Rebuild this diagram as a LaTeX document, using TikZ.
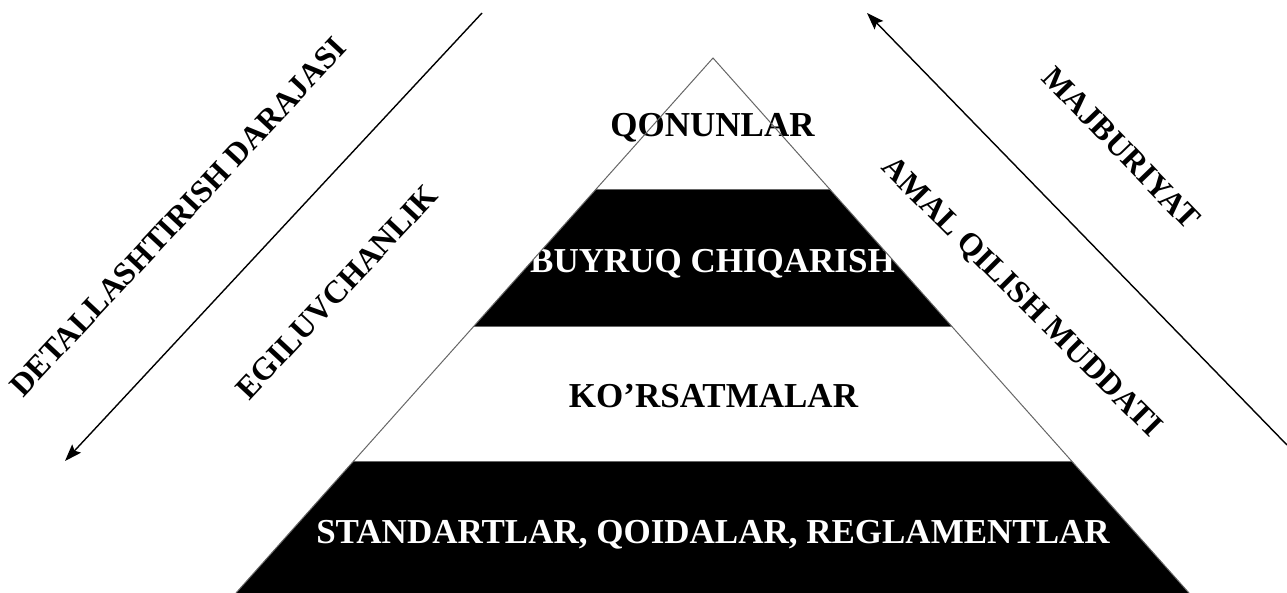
\documentclass[tikz,border=0pt]{standalone}
\usepackage{fontspec}
\setmainfont{Liberation Serif}
\usetikzlibrary{arrows.meta}
\tikzset{
  lbl/.style={font=\bfseries\fontsize{35}{35}\selectfont, inner sep=0pt, anchor=base},
  rlbl/.style={font=\bfseries\fontsize{32}{32}\selectfont, inner sep=0pt},
  band/.style={fill=black},
  edge/.style={draw=black!60, line width=1pt},
  axis/.style={draw=black, line width=1.4pt, -{Stealth[length=17pt,width=12pt,inset=3pt]}}
}
\begin{document}
\begin{tikzpicture}[x=1pt,y=-1pt]
\useasboundingbox (0,0) rectangle (1287,593);
% pyramid corner coordinates
\coordinate (apex) at (713,58);
\coordinate (l1) at (595.3,190); \coordinate (r1) at (830.5,190);
\coordinate (l2) at (473.2,327); \coordinate (r2) at (952.4,327);
\coordinate (l3) at (353.7,461); \coordinate (r3) at (1071.7,461);
\coordinate (l4) at (236,593);   \coordinate (r4) at (1189,593);
% black bands
\fill[band] (l1) -- (r1) -- (r2) -- (l2) -- cycle;
\fill[band] (l3) -- (r3) -- (r4) -- (l4) -- cycle;
% texts in the pyramid
\node[lbl] (qonun) at (712.5,137) {QONUNLAR};
\node[lbl,text=white] (buyruq) at (712.5,273) {BUYRUQ CHIQARISH};
\node[lbl] (kors) at (713.5,407) {KO’RSATMALAR};
\node[lbl,text=white] (stand) at (713,543) {STANDARTLAR, QOIDALAR, REGLAMENTLAR};
% outline
\draw[edge] (l4) -- (apex) -- (r4);
\draw[edge] (l1) -- (r1);
\draw[edge] (l2) -- (r2);
\draw[edge] (l3) -- (r3);
% side arrows
\coordinate (a1) at (482,13); \coordinate (a2) at (65,461);
\coordinate (b1) at (1287,445); \coordinate (b2) at (867,13);
\draw[axis] (a1) -- (a2);
\draw[axis] (b1) -- (b2);
% rotated labels
\node[rlbl,rotate=47] (detal) at (178,217) {DETALLASHTIRISH DARAJASI};
\node[rlbl,rotate=47] (egil) at (337,292) {EGILUVCHANLIK};
\node[rlbl,rotate=-46] (majb) at (1121,148) {MAJBURIYAT};
\node[rlbl,rotate=-45] (amal) at (1021,298) {AMAL QILISH MUDDATI};
\end{tikzpicture}
\end{document}
